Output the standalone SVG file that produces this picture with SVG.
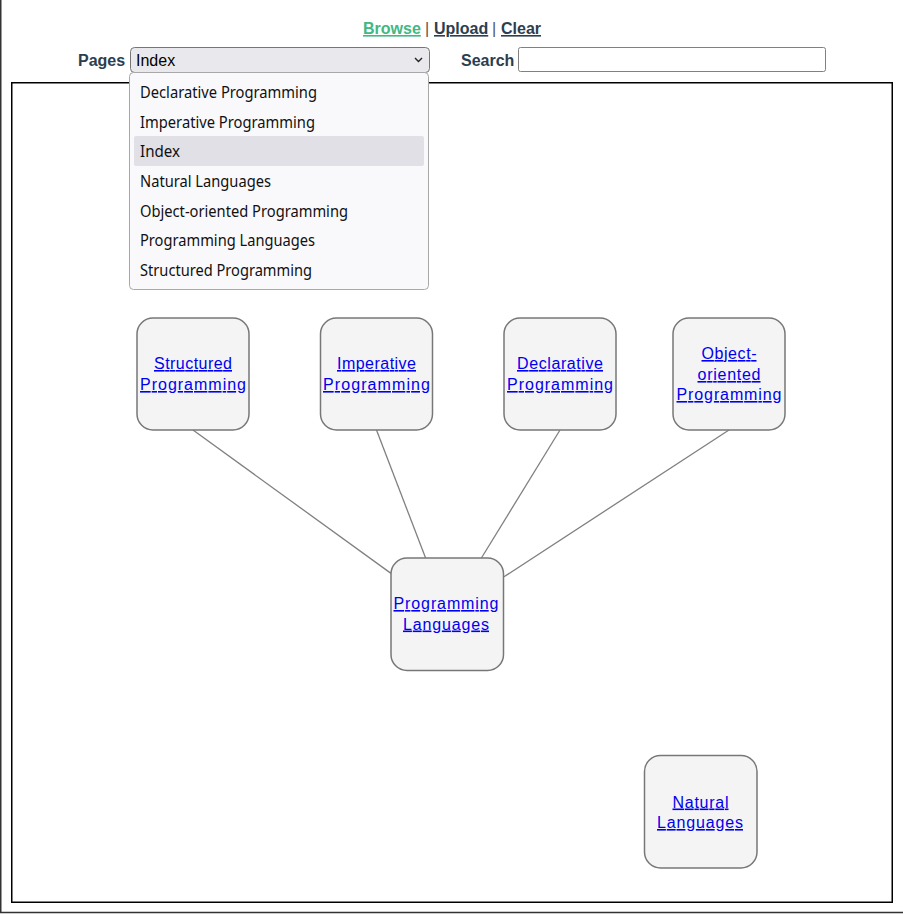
<svg xmlns="http://www.w3.org/2000/svg" width="903" height="914" viewBox="0 0 903 914">
<style>
.hdr{font-family:"Liberation Sans",Arial,sans-serif;font-weight:bold;font-size:16px;fill:#2c3e50}
.node rect{fill:#f4f4f4;stroke:#777;stroke-width:1.5}
.node text{font-family:"Liberation Sans",Arial,sans-serif;font-size:16px;fill:#0000ee;text-anchor:middle;text-decoration:underline}
.edge{stroke:#808080;stroke-width:1.3;fill:none}
.item{font-family:"Noto Sans","Open Sans",sans-serif;font-size:16px;fill:#111}
</style>
<rect x="0" y="0" width="903" height="914" fill="#fff"/>
<line x1="0.75" y1="0" x2="0.75" y2="913" stroke="#333" stroke-width="1.5"/>
<line x1="0" y1="912.5" x2="903" y2="912.5" stroke="#333" stroke-width="1.5"/>
<g id="header">
<text x="363" y="34" class="hdr" style="fill:#42b883;text-decoration:underline">Browse</text>
<text x="425" y="34" class="hdr" style="font-weight:normal;fill:#555">|</text>
<text x="434" y="34" class="hdr" style="text-decoration:underline">Upload</text>
<text x="492" y="34" class="hdr" style="font-weight:normal;fill:#555">|</text>
<text x="501" y="34" class="hdr" style="text-decoration:underline">Clear</text>
<text x="78" y="66" class="hdr">Pages</text>
<rect x="130.5" y="47.5" width="299" height="25" rx="4" fill="#e9e9ed" stroke="#767676"/>
<text x="136" y="66" font-family="Liberation Sans,Arial,sans-serif" font-size="16" fill="#000">Index</text>
<path d="M415 58 L418.5 61.5 L422 58" fill="none" stroke="#222" stroke-width="1.4"/>
<text x="461" y="66" class="hdr">Search</text>
<rect x="518.5" y="47.5" width="307" height="24" rx="2" fill="#fff" stroke="#808080"/>
</g>
<rect x="11.75" y="82.75" width="880.5" height="819.5" fill="none" stroke="#000" stroke-width="1.5"/>
<g id="connectors">
<line class="edge" x1="193" y1="430" x2="391" y2="573.4"/>
<line class="edge" x1="376.5" y1="430" x2="425.6" y2="558"/>
<line class="edge" x1="560" y1="430" x2="481.4" y2="558"/>
<line class="edge" x1="729" y1="430" x2="504" y2="576.8"/>
</g>
<g id="node-structured" class="node">
<rect x="137" y="318" width="112" height="112" rx="16"/>
<text x="193" y="369" textLength="78" lengthAdjust="spacing">Structured</text>
<text x="193" y="390" textLength="106" lengthAdjust="spacing">Programming</text>
</g>
<g id="node-imperative" class="node">
<rect x="320.5" y="318" width="112" height="112" rx="16"/>
<text x="376.5" y="369" textLength="79" lengthAdjust="spacing">Imperative</text>
<text x="376.5" y="390" textLength="107" lengthAdjust="spacing">Programming</text>
</g>
<g id="node-declarative" class="node">
<rect x="504" y="318" width="112" height="112" rx="16"/>
<text x="560" y="369" textLength="86" lengthAdjust="spacing">Declarative</text>
<text x="560" y="390" textLength="106" lengthAdjust="spacing">Programming</text>
</g>
<g id="node-object" class="node">
<rect x="673" y="318" width="112" height="112" rx="16"/>
<text x="729" y="359" textLength="55" lengthAdjust="spacing">Object-</text>
<text x="729" y="380" textLength="63" lengthAdjust="spacing">oriented</text>
<text x="729" y="400" textLength="105" lengthAdjust="spacing">Programming</text>
</g>
<g id="node-proglang" class="node">
<rect x="391" y="558" width="112.5" height="112.5" rx="16"/>
<text x="446" y="609" textLength="105" lengthAdjust="spacing">Programming</text>
<text x="446" y="629.5" textLength="86" lengthAdjust="spacing">Languages</text>
</g>
<g id="node-natural" class="node">
<rect x="644.5" y="755.5" width="112.5" height="112.5" rx="16"/>
<text x="700.5" y="807.5" textLength="56" lengthAdjust="spacing">Natural</text>
<text x="700" y="828" textLength="86" lengthAdjust="spacing">Languages</text>
</g>
<g id="dropdown">
<rect x="129.5" y="72.5" width="299" height="217" rx="4" fill="#f9f9fb" stroke="#a8a8a8"/>
<rect x="134" y="136" width="290" height="30" rx="2" fill="#e1e0e6"/>
<text class="item" x="140" y="97.5" textLength="177" lengthAdjust="spacingAndGlyphs">Declarative Programming</text>
<text class="item" x="140" y="127.5" textLength="175" lengthAdjust="spacingAndGlyphs">Imperative Programming</text>
<text class="item" x="140" y="157" textLength="40" lengthAdjust="spacingAndGlyphs">Index</text>
<text class="item" x="140" y="186.5" textLength="131" lengthAdjust="spacingAndGlyphs">Natural Languages</text>
<text class="item" x="140" y="216.5" textLength="208" lengthAdjust="spacingAndGlyphs">Object-oriented Programming</text>
<text class="item" x="140" y="246" textLength="175" lengthAdjust="spacingAndGlyphs">Programming Languages</text>
<text class="item" x="140" y="275.5" textLength="172" lengthAdjust="spacingAndGlyphs">Structured Programming</text>
</g>
</svg>
